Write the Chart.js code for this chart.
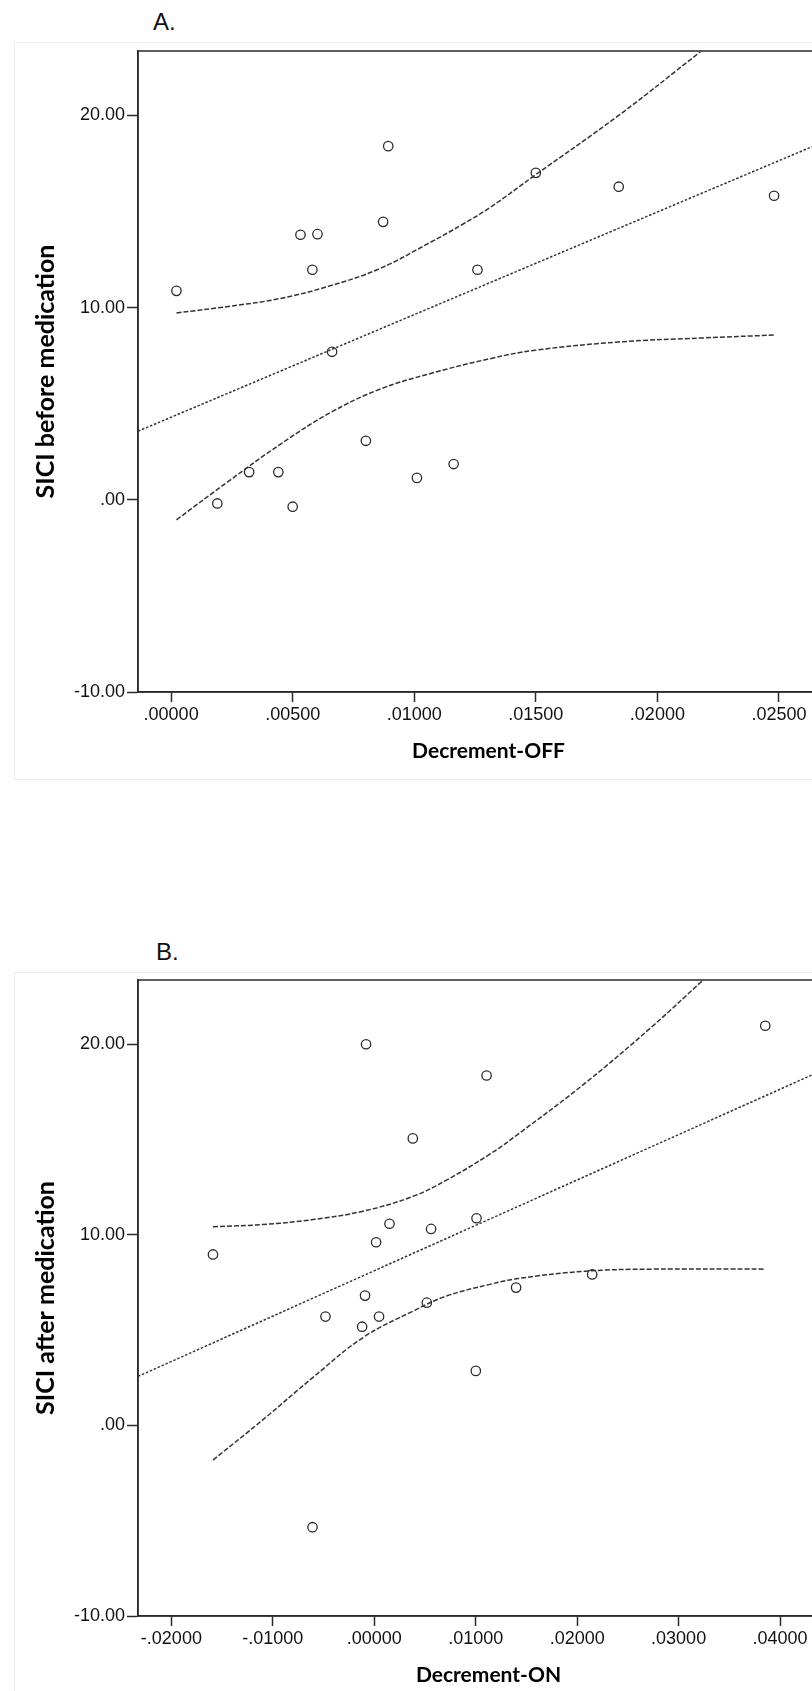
<!DOCTYPE html>
<html>
<head>
<meta charset="utf-8">
<script src="https://cdn.jsdelivr.net/npm/chart.js@4.4.1/dist/chart.umd.min.js"></script>
<style>
    html, body { margin: 0; padding: 0; background: #fff; overflow: hidden; width: 812px; height: 1691px; }
    .tag { position: absolute; font-family: "Liberation Sans", Arial, sans-serif; font-size: 24px; line-height: 24px; color: #111; }
    .box { position: absolute; border: 1px solid #ececec; }
    canvas { position: absolute; left: 0; }
</style>
</head>
<body>
<div class="tag" style="left:153px; top:10px">A.</div>
<div class="box" style="left:14px; top:42px; width:900px; height:736px"></div>
<canvas id="chartA" width="850" height="780" style="top:0"></canvas>

<div class="tag" style="left:156px; top:940px">B.</div>
<div class="box" style="left:14px; top:972px; width:900px; height:800px"></div>
<canvas id="chartB" width="850" height="761" style="top:930px"></canvas>

<script>
// 축 눈금
const yTickValues = [-10, 0, 10, 20];
const yTickLabels = [`-10.00`, `.00`, `10.00`, `20.00`];
const xTickValuesA = [0, 0.005, 0.01, 0.015, 0.02, 0.025];
const xTickLabelsA = [`.00000`, `.00500`, `.01000`, `.01500`, `.02000`, `.02500`];
const xTickValuesB = [-0.02, -0.01, 0, 0.01, 0.02, 0.03, 0.04];
const xTickLabelsB = [`-.02000`, `-.01000`, `.00000`, `.01000`, `.02000`, `.03000`, `.04000`];

// A. Decrement-OFF / SICI before medication
const offX = [0.00022, 0.00532, 0.00602, 0.00581, 0.00893, 0.00872, 0.00662, 0.01260, 0.00801,
    0.00321, 0.00441, 0.00190, 0.00500, 0.01011, 0.01162, 0.01500, 0.01841, 0.02480];
const offY = [10.87, 13.79, 13.82, 11.97, 18.40, 14.46, 7.70, 11.97, 3.07,
    1.44, 1.44, -0.19, -0.36, 1.14, 1.86, 17.01, 16.29, 15.82];
const offFitX = [-0.00136, 0.02636];
const offFitY = [3.57, 18.37];
const offUpperX = [0.00022, 0.00241, 0.00447, 0.00653, 0.00858, 0.01064, 0.01201, 0.01311, 0.01498, 0.01841, 0.02177];
const offUpperY = [9.72, 10.07, 10.47, 11.13, 12.03, 13.38, 14.35, 15.20, 16.90, 20.00, 23.31];
const offLowerX = [0.00022, 0.00241, 0.00447, 0.00653, 0.00858, 0.01064, 0.01311, 0.01498, 0.01841, 0.02184, 0.02480];
const offLowerY = [-1.04, 1.01, 2.87, 4.52, 5.75, 6.56, 7.34, 7.78, 8.21, 8.42, 8.57];

// B. Decrement-ON / SICI after medication
const onX = [-0.01590, -0.00081, 0.01107, 0.00380, 0.00150, 0.00018, 0.00560, 0.01008, -0.00091,
    -0.00481, 0.00047, -0.00120, 0.00518, 0.01001, 0.03854, 0.01398, 0.02148, -0.00609];
const onY = [8.97, 20.00, 18.36, 15.06, 10.58, 9.61, 10.31, 10.87, 6.81,
    5.71, 5.71, 5.18, 6.44, 2.86, 20.97, 7.23, 7.92, -5.34];
const onFitX = [-0.02329, 0.04315];
const onFitY = [2.57, 18.39];
const onUpperX = [-0.01590, -0.01097, -0.00604, -0.00111, 0.00383, 0.00712, 0.01139, 0.01422, 0.02079, 0.02737, 0.03230];
const onUpperY = [10.42, 10.54, 10.80, 11.24, 12.02, 12.87, 14.23, 15.30, 17.96, 20.92, 23.31];
const onLowerX = [-0.01590, -0.01097, -0.00604, -0.00111, 0.00383, 0.00712, 0.01139, 0.01422, 0.02079, 0.02737, 0.03854];
const onLowerY = [-1.82, 0.30, 2.52, 4.61, 6.00, 6.79, 7.40, 7.71, 8.09, 8.20, 8.20];

const INK = `#2a2a2a`;
const pairs = (xs, ys) => xs.map((x, i) => ({ x: x, y: ys[i] }));

// 플롯 위/오른쪽 테두리
const frameBox = {
    id: `frameBox`,
    afterDatasetsDraw(chart) {
        const { ctx, chartArea: a } = chart;
        ctx.save();
        ctx.strokeStyle = INK;
        ctx.lineWidth = 1.5;
        ctx.strokeRect(a.left, a.top, a.right - a.left, a.bottom - a.top);
        ctx.restore();
    }
};

const lineSet = (data, dash, tension) => ({
    data: data,
    showLine: true,
    pointRadius: 0,
    borderColor: `#333`,
    borderWidth: 1.5,
    borderDash: dash,
    tension: tension,
    fill: false
});

const UTIL = {
    _DRAW: function(id, o) {
        new Chart(document.getElementById(id), {
            type: `scatter`,
            data: {
                datasets: [
                    {
                        data: pairs(o.px, o.py),
                        pointRadius: 4.7,
                        pointBorderWidth: 1.3,
                        borderColor: INK,
                        backgroundColor: `rgba(0,0,0,0)`
                    },
                    lineSet(pairs(o.fx, o.fy), [2.5, 1.8], 0),
                    lineSet(pairs(o.ux, o.uy), [5, 2], 0.4),
                    lineSet(pairs(o.lx, o.ly), [5, 2], 0.4)
                ]
            },
            options: {
                responsive: false,
                animation: false,
                devicePixelRatio: 1,
                layout: { padding: { top: o.padTop, right: 11, bottom: 0, left: 0 } },
                plugins: { legend: { display: false }, tooltip: { enabled: false } },
                scales: {
                    x: {
                        type: `linear`,
                        min: o.xMin,
                        max: o.xMax,
                        afterBuildTicks: s => { s.ticks = o.xTicks.map(v => ({ value: v })); },
                        afterFit: s => { s.height = o.axisH; },
                        ticks: {
                            autoSkip: false, maxRotation: 0, padding: 2, color: `#111`,
                            font: { family: `Liberation Sans`, size: 18 },
                            callback: (v, i) => o.xLabels[i]
                        },
                        grid: { drawOnChartArea: false, tickLength: 10, tickColor: INK, tickWidth: 1.5 },
                        border: { color: INK, width: 1.5 },
                        title: {
                            display: true, text: o.xTitle, color: `#000`,
                            font: { family: `Lato`, weight: `bold`, size: 21 },
                            padding: { top: 0, bottom: o.titlePad }
                        }
                    },
                    y: {
                        type: `linear`,
                        min: -10,
                        max: o.yMax,
                        afterBuildTicks: s => { s.ticks = yTickValues.map(v => ({ value: v })); },
                        afterFit: s => { s.width = 138; },
                        ticks: {
                            padding: 2, color: `#111`,
                            font: { family: `Liberation Sans`, size: 18 },
                            callback: (v, i) => yTickLabels[i]
                        },
                        grid: { drawOnChartArea: false, tickLength: 11, tickColor: INK, tickWidth: 1.5 },
                        border: { color: INK, width: 1.5 },
                        title: {
                            display: true, text: o.yTitle, color: `#000`,
                            font: { family: `Lato`, weight: `bold`, size: 25 },
                            padding: { top: 31, bottom: 0 }
                        }
                    }
                }
            },
            plugins: [frameBox]
        });
    }
};

UTIL._DRAW(`chartA`, {
    px: offX, py: offY, fx: offFitX, fy: offFitY,
    ux: offUpperX, uy: offUpperY, lx: offLowerX, ly: offLowerY,
    xMin: -0.001362, xMax: 0.02747, yMax: 23.35,
    xTicks: xTickValuesA, xLabels: xTickLabelsA,
    xTitle: `Decrement-OFF`, yTitle: `SICI before medication`,
    padTop: 51, axisH: 88, titlePad: 16
});

UTIL._DRAW(`chartB`, {
    px: onX, py: onY, fx: onFitX, fy: onFitY,
    ux: onUpperX, uy: onUpperY, lx: onLowerX, ly: onLowerY,
    xMin: -0.02329, xMax: 0.04581, yMax: 23.37,
    xTicks: xTickValuesB, xLabels: xTickLabelsB,
    xTitle: `Decrement-ON`, yTitle: `SICI after medication`,
    padTop: 50, axisH: 75, titlePad: 3
});
</script>
</body>
</html>
